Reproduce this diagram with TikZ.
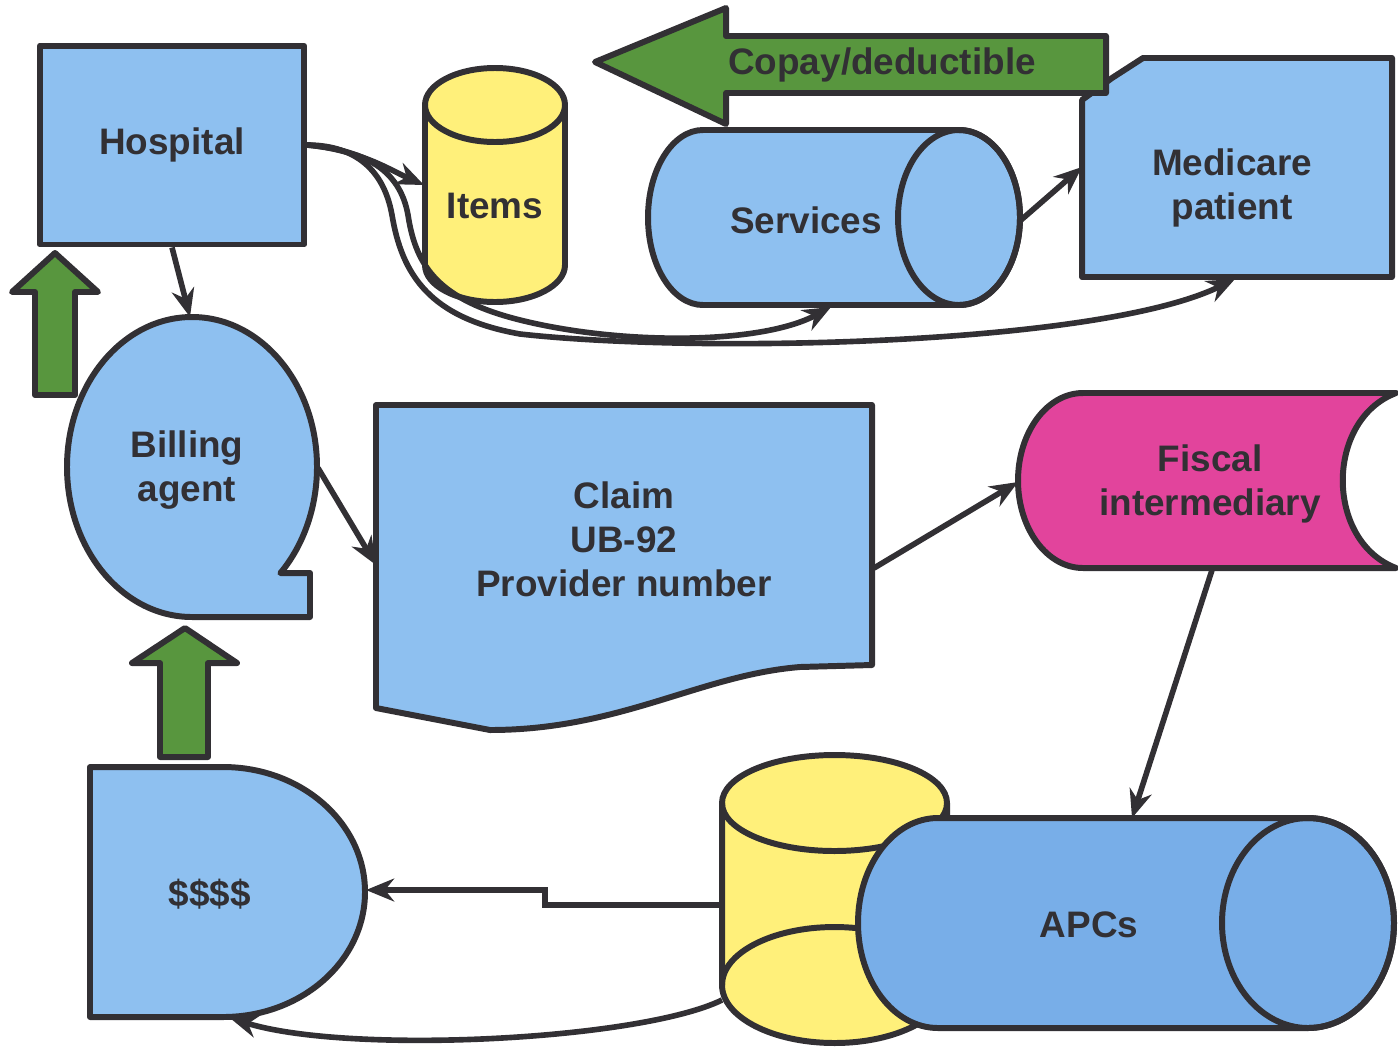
\documentclass[tikz,border=0pt]{standalone}
\usepackage{fontspec}
\setmainfont{Liberation Sans}
\usetikzlibrary{arrows.meta}

\definecolor{ink}{RGB}{50,48,52}
\definecolor{paleblue}{RGB}{142,192,240}
\definecolor{apcblue}{RGB}{120,174,232}
\definecolor{drumyellow}{RGB}{255,240,122}
\definecolor{fiscpink}{RGB}{226,68,156}
\definecolor{arrowgreen}{RGB}{88,150,62}

\tikzset{
	outline/.style={draw=ink,line width=3.4pt,line join=round},
	lbl/.style={text=ink,font=\fontsize{21}{25}\selectfont\bfseries,align=center},
	link/.style={draw=ink,line width=3.2pt,-{Stealth[length=16pt,width=13pt]}},
}

\begin{document}
\begin{tikzpicture}[x=0.02cm,y=0.02cm]
	\useasboundingbox (0,0) rectangle (1398,-1052);
	% shapes
	\node[outline,fill=paleblue,lbl,minimum width=5.28cm,minimum height=3.98cm] (hosp) at (172,-145) {Hospital};
	\filldraw[outline,fill=drumyellow] (425,-105) -- (425,-265) arc (180:360:70 and 37) -- (565,-105) arc (0:180:70 and 37) -- cycle;
	\draw[outline] (425,-105) arc (180:360:70 and 37);
	\node[lbl] (items) at (495,-206) {Items};
	\filldraw[outline,fill=paleblue] (703,-130) -- (959,-130) arc (90:-90:61 and 87.5) -- (703,-305) arc (270:90:55 and 87.5) -- cycle;
	\draw[outline] (959,-217.5) ellipse [x radius=61, y radius=87.5];
	\node[lbl] (serv) at (806,-220) {Services};
	\filldraw[outline,fill=paleblue] (1082,-100) -- (1112,-78) -- (1143,-58) -- (1392,-58) -- (1392,-277) -- (1082,-277) -- cycle;
	\node[lbl] (med) at (1232,-188) {Medicare\\patient};
	\filldraw[outline,fill=arrowgreen] (595,-62) -- (726,-8) -- (726,-36) -- (1106,-36) -- (1106,-93) -- (726,-93) -- (726,-124) -- cycle;
	\node[lbl] (copay) at (882,-65) {Copay/deductible};
	\filldraw[outline,fill=arrowgreen] (55,-253) -- (98,-292) -- (75,-292) -- (75,-395) -- (35,-395) -- (35,-292) -- (12,-292) -- cycle;
	\filldraw[outline,fill=paleblue] (192,-617) arc (-90:-405:125 and 150) -- (310,-573) -- (310,-617) -- cycle;
	\node[lbl] (bill) at (187,-470) {Billing\\agent};
	\filldraw[outline,fill=paleblue] (376,-405) -- (872,-405) -- (872,-665) -- (800,-667) .. controls (700,-675) and (620,-730) .. (490,-730) -- (376,-708) -- cycle;
	\node[lbl] (claim) at (624,-539) {Claim\\UB-92\\Provider number};
	\filldraw[outline,fill=fiscpink] (1083,-393) -- (1396,-393) .. controls (1325,-420) and (1325,-541) .. (1396,-568) -- (1083,-568) arc (270:90:65 and 87.5) -- cycle;
	\node[lbl] (fisc) at (1210,-484) {Fiscal\\intermediary};
	\filldraw[outline,fill=arrowgreen] (185,-628) -- (237,-663) -- (208,-663) -- (208,-757) -- (160,-757) -- (160,-663) -- (132,-663) -- cycle;
	\filldraw[outline,fill=paleblue] (90,-767) -- (223,-767) arc (90:-90:142 and 125) -- (90,-1017) -- cycle;
	\node[lbl] (cash) at (210,-894) {\$\$\$\$};
	\filldraw[outline,fill=drumyellow] (722,-803) -- (722,-985) arc (180:360:112.5 and 58) -- (947,-803) arc (0:180:112.5 and 48) -- cycle;
	\draw[outline] (722,-803) arc (180:360:112.5 and 48);
	\draw[outline] (722,-985) arc (180:0:112.5 and 58);
	\filldraw[outline,fill=apcblue] (938,-818) -- (1308,-818) arc (90:-90:86 and 105) -- (938,-1028) arc (270:90:80 and 105) -- cycle;
	\draw[outline] (1308,-923) ellipse [x radius=86, y radius=105];
	\node[lbl] (apc) at (1089,-925) {APCs};
	% connector ends
	\coordinate (bill-n) at (190,-317);
	\coordinate (bill-e) at (318,-468);
	\coordinate (claim-w) at (376,-565);
	\coordinate (claim-e) at (874,-568);
	\coordinate (fisc-w) at (1018,-482);
	\coordinate (fisc-s) at (1212,-570);
	\coordinate (apc-n) at (1132,-818);
	\coordinate (serv-e) at (1021,-220);
	\coordinate (serv-s) at (831,-307);
	\coordinate (med-w) at (1082,-167);
	\coordinate (med-s) at (1235,-279);
	\coordinate (items-w) at (424,-185);
	\coordinate (drum-w) at (722,-905);
	\coordinate (drum-sw) at (722,-1000);
	\coordinate (cash-e) at (366,-890);
	\coordinate (cash-s) at (230,-1018);
	% connectors
	\draw[link] (hosp.south) -- (bill-n);
	\draw[link] (bill-e) -- (claim-w);
	\draw[link] (claim-e) -- (fisc-w);
	\draw[link] (fisc-s) -- (apc-n);
	\draw[link] (serv-e) -- (med-w);
	\draw[link] (hosp.east) .. controls (360,-150) and (390,-170) .. (items-w);
	\draw[link] (hosp.east) .. controls (365,-150) and (400,-170) .. (408,-215) .. controls (416,-268) and (440,-300) .. (520,-320) .. controls (620,-345) and (760,-345) .. (serv-s);
	\draw[link] (hosp.east) .. controls (350,-145) and (383,-165) .. (392,-215) .. controls (402,-275) and (430,-318) .. (520,-334) .. controls (700,-354) and (1100,-345) .. (med-s);
	\draw[link] (drum-w) -- ++(-177,0) |- (cash-e);
	\draw[link] (drum-sw) .. controls (640,-1040) and (350,-1055) .. (cash-s);
\end{tikzpicture}
\end{document}
